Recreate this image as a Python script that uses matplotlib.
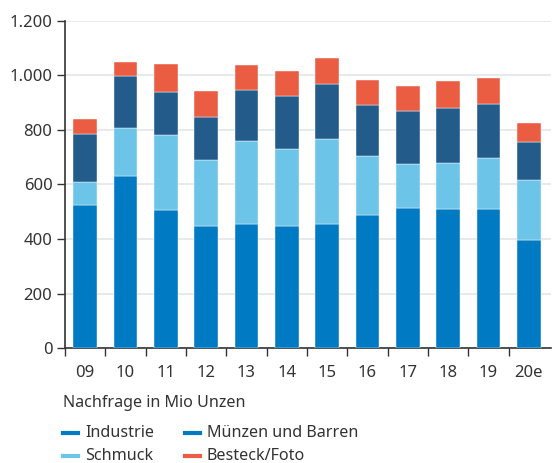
import numpy as np
import matplotlib.pyplot as plt
from matplotlib.lines import Line2D
from matplotlib.ticker import FuncFormatter

plt.rcParams['font.family'] = ['Noto Sans', 'DejaVu Sans']

years = ['09', '10', '11', '12', '13', '14', '15', '16', '17', '18', '19', '20e']
industrie = [525, 632, 505, 446, 456, 446, 454, 487, 515, 509, 509, 398]
schmuck = [84, 177, 276, 244, 305, 286, 312, 218, 159, 170, 189, 218]
muenzen = [177, 189, 159, 159, 187, 191, 204, 188, 194, 203, 198, 139]
besteck = [54, 52, 104, 94, 89, 95, 96, 89, 93, 97, 96, 71]

c_ind = '#007ac3'
c_sch = '#6cc4e9'
c_mue = '#235c8b'
c_bes = '#ea5d42'
dark = '#333333'

W, H = 553, 463
fig = plt.figure(figsize=(W / 100, H / 100), dpi=100)
ax = fig.add_axes([65 / W, 1 - 348 / H, 486 / W, 327 / H])

x = np.arange(len(years))
w = 0.59
bottom = np.zeros(len(years))
for vals, col in [(industrie, c_ind), (schmuck, c_sch), (muenzen, c_mue), (besteck, c_bes)]:
    ax.bar(x, vals, w, bottom=bottom, color=col, edgecolor='white', linewidth=0.3, zorder=3)
    bottom += np.array(vals)

ax.set_ylim(0, 1200)
ax.set_xlim(-0.5, 11.55)
ax.set_yticks(range(0, 1201, 200))
ax.yaxis.set_major_formatter(FuncFormatter(lambda v, p: f'{int(v):,}'.replace(',', '.')))
ax.grid(axis='y', color='#e1e6ea', linewidth=1.2, zorder=0)

ax.set_xticks(x)
ax.set_xticklabels(years)
ax.set_xticks(np.arange(-0.5, 11.5, 1), minor=True)
ax.tick_params(axis='x', which='major', length=0, pad=12, labelsize=12, colors=dark)
ax.tick_params(axis='x', which='minor', length=6, width=1, color=dark)
ax.tick_params(axis='y', length=6, width=1, color=dark, labelsize=12, labelcolor=dark, pad=3)

for s in ['top', 'right']:
    ax.spines[s].set_visible(False)
for s in ['left', 'bottom']:
    ax.spines[s].set_color(dark)
    ax.spines[s].set_linewidth(1.2)

fig.text(63 / W, 1 - 403 / H, 'Nachfrage in Mio Unzen', fontsize=11.6, color=dark, va='center')

# legend drawn by hand (the original shows the same blue for Industrie and Münzen)
leg_labels = ['Industrie', 'Schmuck', 'Münzen und Barren', 'Besteck/Foto']
leg_colors = [c_ind, c_sch, c_ind, c_bes]
leg_x = [63, 63, 185, 185]
leg_y = [433, 456, 433, 456]
for lab, col, lx, ly in zip(leg_labels, leg_colors, leg_x, leg_y):
    fig.add_artist(Line2D([lx / W, (lx + 15) / W], [1 - ly / H, 1 - ly / H],
                          color=col, lw=3, transform=fig.transFigure))
    fig.text((lx + 22) / W, 1 - ly / H, lab, fontsize=11.6, color=dark, va='center')

fig.savefig('out.png', dpi=100)
